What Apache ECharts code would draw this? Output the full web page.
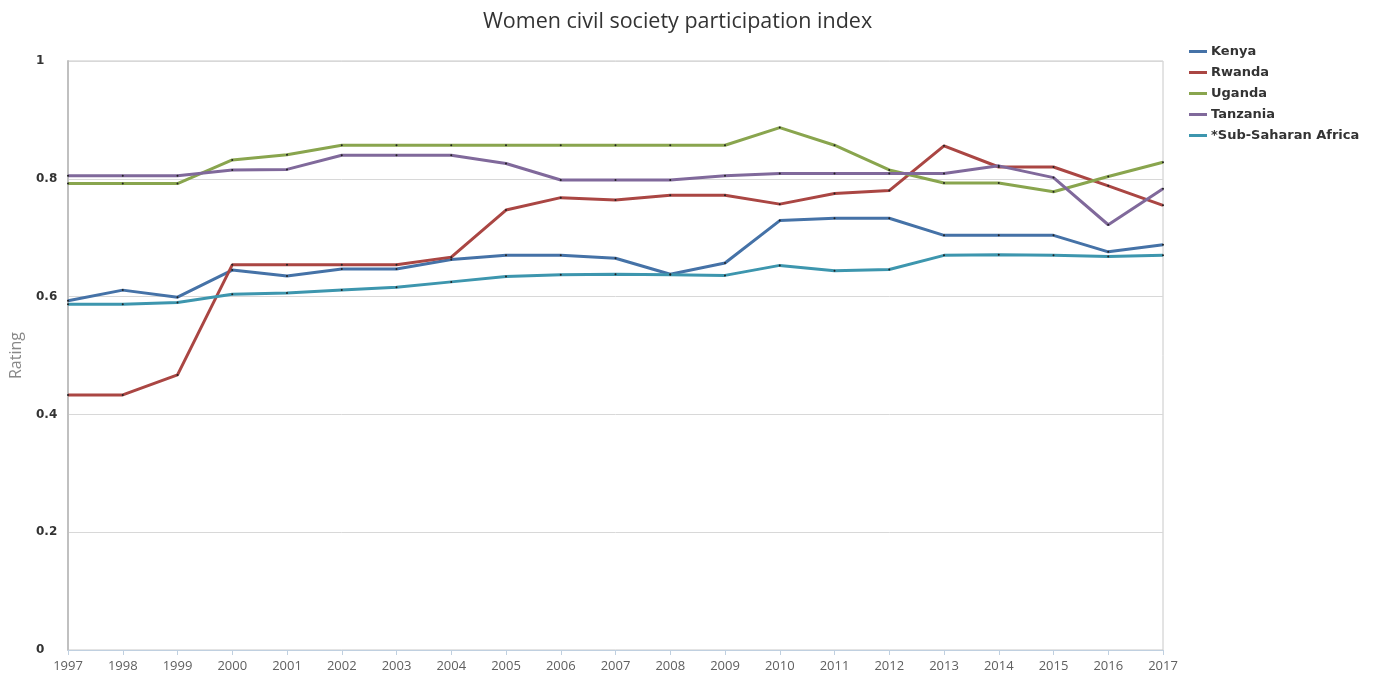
<!DOCTYPE html>
<html><head><meta charset="utf-8">
<script src="https://cdn.jsdelivr.net/npm/echarts@6/dist/echarts.min.js"></script>
<style>html,body{margin:0;padding:0;background:#fff}#c{width:1374px;height:677px}</style>
</head><body><div id="c"></div>
<script>
const years = ['1997','1998','1999','2000','2001','2002','2003','2004','2005','2006','2007','2008','2009','2010','2011','2012','2013','2014','2015','2016','2017'];
const kenya    = [0.593,0.611,0.599,0.645,0.635,0.647,0.647,0.663,0.670,0.670,0.665,0.638,0.657,0.729,0.733,0.733,0.704,0.704,0.704,0.676,0.688];
const rwanda   = [0.433,0.433,0.467,0.654,0.654,0.654,0.654,0.667,0.747,0.768,0.764,0.772,0.772,0.757,0.775,0.780,0.856,0.820,0.820,0.788,0.755];
const uganda   = [0.792,0.792,0.792,0.832,0.841,0.857,0.857,0.857,0.857,0.857,0.857,0.857,0.857,0.887,0.857,0.815,0.793,0.793,0.778,0.804,0.828];
const tanzania = [0.805,0.805,0.805,0.815,0.816,0.840,0.840,0.840,0.826,0.798,0.798,0.798,0.805,0.809,0.809,0.809,0.809,0.822,0.802,0.722,0.783];
const ssa      = [0.587,0.587,0.590,0.604,0.606,0.611,0.616,0.625,0.634,0.637,0.638,0.637,0.636,0.653,0.644,0.646,0.670,0.671,0.670,0.668,0.670];
const seriesNames = ['Kenya','Rwanda','Uganda','Tanzania','*Sub-Saharan Africa'];
const yTicks = [0,0.2,0.4,0.6,0.8,1];

const colors = ['#4572A7','#AA4643','#89A54E','#80699B','#3D96AE'];
const dataSets = [kenya,rwanda,uganda,tanzania,ssa];
const chart = echarts.init(document.getElementById('c'));
chart.setOption({
  animation:false,
  color: colors,
  title:{text:'Women civil society participation index',left:478,top:6,
    textStyle:{fontFamily:'Open Sans',fontSize:21.5,fontWeight:'normal',color:'#333'}},
  legend:{orient:'vertical',left:1184,top:40,itemWidth:18,itemHeight:3,itemGap:8,
    icon:'rect',
    textStyle:{fontFamily:'DejaVu Sans',fontWeight:'bold',fontSize:13,color:'#333',padding:[0,0,0,-1]},
    data:seriesNames.map((n,i)=>({name:n,itemStyle:{color:colors[i]}}))},
  grid:{left:68,right:211,top:61,bottom:27,show:true,borderColor:'#c8c8c8',borderWidth:1,outerBoundsMode:'none',containLabel:false},
  xAxis:{type:'category',data:years,boundaryGap:false,
    axisLine:{lineStyle:{color:'#C0D0E0',width:1}},
    axisTick:{show:true,alignWithLabel:true,length:5,lineStyle:{color:'#C0D0E0'}},
    axisLabel:{fontFamily:'Open Sans',fontSize:13,color:'#606060',margin:10,interval:0},
    splitLine:{show:false}},
  yAxis:{type:'value',min:0,max:1,interval:0.2,
    name:'Rating',nameLocation:'middle',nameGap:44,
    nameTextStyle:{fontFamily:'Open Sans',fontSize:16,color:'#888'},
    axisLine:{show:true,lineStyle:{color:'#c0c0c0',width:2}},
    axisTick:{show:false},
    axisLabel:{align:'left',margin:32,fontFamily:'DejaVu Sans',fontWeight:'bold',fontSize:12,color:'#333',
      formatter:v=>String(Math.round(v*10)/10)},
    splitLine:{lineStyle:{color:'#d8d8d8',width:1}}},
  series: seriesNames.map((n,i)=>({
    name:n,type:'line',data:dataSets[i],
    lineStyle:{width:3,color:colors[i]},
    symbol:'circle',symbolSize:2,
    itemStyle:{color:'#222',borderWidth:0},
    emphasis:{disabled:true}
  }))
});
</script></body></html>
